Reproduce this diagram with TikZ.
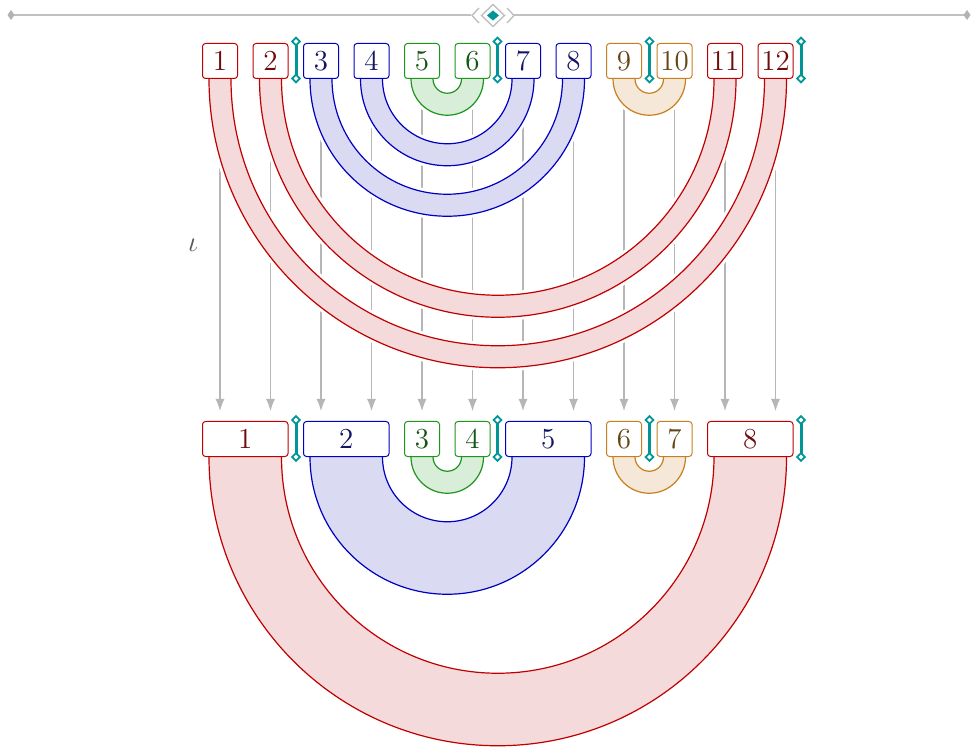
\documentclass[tikz,border=0pt]{standalone}
\usetikzlibrary{arrows.meta,calc}

\definecolor{edgeR}{RGB}{192,0,0}
\definecolor{fillR}{RGB}{244,218,218}
\definecolor{textR}{RGB}{110,12,12}
\definecolor{edgeB}{RGB}{0,0,192}
\definecolor{fillB}{RGB}{218,218,243}
\definecolor{textB}{RGB}{20,20,100}
\definecolor{edgeG}{RGB}{30,150,30}
\definecolor{fillG}{RGB}{217,238,217}
\definecolor{textG}{RGB}{20,85,20}
\definecolor{edgeO}{RGB}{200,128,30}
\definecolor{fillO}{RGB}{245,232,217}
\definecolor{textO}{RGB}{100,70,20}
\definecolor{tealmark}{RGB}{0,150,150}
\definecolor{rulegray}{RGB}{192,192,192}
\definecolor{arrowgray}{RGB}{182,182,182}

\pgfdeclarelayer{back}
\pgfsetlayers{back,main}

% half-annulus joining the bottoms of two boxes; bands are inset 3.5pt from the box sides
\newcommand\band[3]{%
  \path[#3] let \p1=(#1.south west), \p2=(#1.south east), \p3=(#2.south east),
    \n1={(\x3-\x1)/2-3.5pt}, \n2={(\x1+\x3)/2-\x2+3.5pt}, \n3={\n1-\n2} in
    (\x1+3.5pt,\y1+3pt) -- (\x1+3.5pt,\y1)
    arc[start angle=180, end angle=360, radius=\n1]
    -- ++(0pt,3pt) -- ++(-\n3,0pt) -- ++(0pt,-3pt)
    arc[start angle=0, end angle=-180, radius=\n2]
    -- ++(0pt,3pt) -- cycle;}

\tikzset{
  box/.style={draw, fill=white, rounded corners=1.5pt, line width=0.5pt,
    minimum width=17.5pt, minimum height=17.5pt, inner sep=0pt},
  wide/.style={box, minimum width=42.75pt},
  rbox/.style={box, draw=edgeR, text=textR},
  bbox/.style={box, draw=edgeB, text=textB},
  gbox/.style={box, draw=edgeG, text=textG},
  obox/.style={box, draw=edgeO, text=textO},
  bandstyle/.style={line width=0.6pt, preaction={draw=white, line width=3.5pt}},
  rband/.style={bandstyle, draw=edgeR, fill=fillR},
  bband/.style={bandstyle, draw=edgeB, fill=fillB},
  gband/.style={bandstyle, draw=edgeG, fill=fillG},
  oband/.style={bandstyle, draw=edgeO, fill=fillO},
  mapsto/.style={draw=arrowgray, line width=0.55pt,
    -{Latex[length=6pt,width=4.5pt]}},
  rule/.style={draw=rulegray, line width=1pt},
  divider/.pic={
    \draw[tealmark, line width=1.5pt] (0,-18.5) -- (0,18.5);
    \foreach \s in {-1,1}
      \draw[tealmark, fill=white, line width=0.9pt]
        (0,\s*18.5-3.8) -- (3.8,\s*18.5) -- (0,\s*18.5+3.8) -- (-3.8,\s*18.5) -- cycle;
  }
}

\begin{document}
\begin{tikzpicture}[x=0.5pt, y=-0.5pt, font=\fontsize{14.5}{17}\selectfont]
\useasboundingbox (0,0) rectangle (977,747);

% ornamental rule
\draw[rule] (11,15) -- (471,15);
\draw[rule] (514,15) -- (967,15);
\fill[rulegray!80!gray] (11,10) -- (14.5,15) -- (11,20) -- (7.5,15) -- cycle;
\fill[rulegray!80!gray] (967,10) -- (970.5,15) -- (967,20) -- (963.5,15) -- cycle;
\draw[draw=rulegray, line width=0.7pt] (479,8) -- (472,15.5) -- (479,23);
\draw[draw=rulegray, line width=0.7pt] (507,8) -- (514,15.5) -- (507,23);
\draw[draw=rulegray, line width=0.7pt] (493,4.5) -- (504.5,15.5) -- (493,26.5) -- (481.5,15.5) -- cycle;
\fill[tealmark] (493,10.5) -- (499,15.5) -- (493,20.5) -- (487,15.5) -- cycle;

% top row
\node[rbox] (t1)  at (220,61)   {1};
\node[rbox] (t2)  at (270.5,61) {2};
\node[bbox] (t3)  at (321,61)   {3};
\node[bbox] (t4)  at (371.5,61) {4};
\node[gbox] (t5)  at (422,61)   {5};
\node[gbox] (t6)  at (472.5,61) {6};
\node[bbox] (t7)  at (523,61)   {7};
\node[bbox] (t8)  at (573.5,61) {8};
\node[obox] (t9)  at (624,61)   {9};
\node[obox] (t10) at (674.5,61) {10};
\node[rbox] (t11) at (725,61)   {11};
\node[rbox] (t12) at (775.5,61) {12};

% bottom row
\node[rbox, wide] (b1) at (245.25,439) {1};
\node[bbox, wide] (b2) at (346.25,439) {2};
\node[gbox]       (b3) at (422,439)    {3};
\node[gbox]       (b4) at (472.5,439)  {4};
\node[bbox, wide] (b5) at (548.25,439) {5};
\node[obox]       (b6) at (624,439)    {6};
\node[obox]       (b7) at (674.5,439)  {7};
\node[rbox, wide] (b8) at (750.25,439) {8};

\begin{pgfonlayer}{back}
% the map between the rows, passing under the bands
\foreach \t/\b in {t1/b1, t2/b1, t3/b2, t4/b2, t5/b3, t6/b4,
                   t7/b5, t8/b5, t9/b6, t10/b7, t11/b8, t12/b8}
  \draw[mapsto] (\t.south) -- ($(\t.south |- \b.north)+(0,-10)$);

% bands
\band{t1}{t12}{rband}
\band{t2}{t11}{rband}
\band{t3}{t8}{bband}
\band{t4}{t7}{bband}
\band{t5}{t6}{gband}
\band{t9}{t10}{oband}
\band{b1}{b8}{rband}
\band{b2}{b5}{bband}
\band{b3}{b4}{gband}
\band{b6}{b7}{oband}
\end{pgfonlayer}

% separators
\foreach \x in {296,497.5,649.5,801} {
  \pic at (\x,60) {divider};
  \pic at (\x,438.5) {divider};
}

\node[text=black!65] (iota) at (193,245) {$\iota$};
\end{tikzpicture}
\end{document}
